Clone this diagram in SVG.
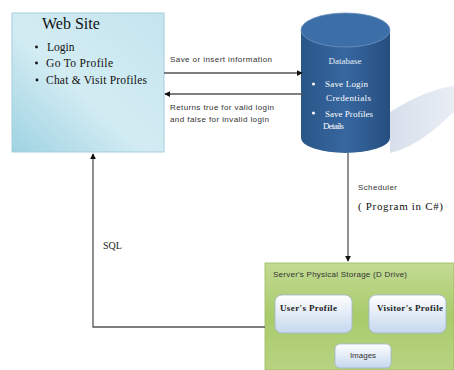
<svg xmlns="http://www.w3.org/2000/svg" width="454" height="370" viewBox="0 0 454 370">
<defs>
<linearGradient id="gWeb" x1="0" y1="1" x2="1" y2="0">
<stop offset="0" stop-color="#9fd3e2"/>
<stop offset="0.45" stop-color="#d3ecf3"/>
<stop offset="1" stop-color="#c4e4ee"/>
</linearGradient>
<linearGradient id="gDb" x1="0" y1="0" x2="1" y2="0">
<stop offset="0" stop-color="#2a5688"/>
<stop offset="0.5" stop-color="#3767a0"/>
<stop offset="1" stop-color="#264f80"/>
</linearGradient>
<linearGradient id="gGreen" x1="0" y1="0" x2="0" y2="1">
<stop offset="0" stop-color="#c2da93"/>
<stop offset="0.5" stop-color="#a9cb6b"/>
<stop offset="1" stop-color="#b8d382"/>
</linearGradient>
<linearGradient id="gInner" x1="0" y1="0" x2="0" y2="1">
<stop offset="0" stop-color="#ffffff"/>
<stop offset="1" stop-color="#c5d7ee"/>
</linearGradient>
<linearGradient id="gShadow" x1="0" y1="0" x2="1" y2="0">
<stop offset="0" stop-color="#d6dfeb"/>
<stop offset="1" stop-color="#e9eef5"/>
</linearGradient>
<marker id="ah" viewBox="0 0 8 8" refX="7" refY="4" markerWidth="6" markerHeight="6" orient="auto" markerUnits="userSpaceOnUse">
<path d="M0,0 L8,4 L0,8 z" fill="#111"/>
</marker>
<style>
.conn{stroke:#555;stroke-width:1.3;fill:none}
.sans{font-family:"Liberation Sans",Arial,sans-serif}
.serif{font-family:"Liberation Serif","Times New Roman",serif}
.small{font-size:8px;fill:#333}
.inner{fill:url(#gInner);stroke:#9fb6d3;stroke-width:0.8}
</style>
</defs>
<rect width="454" height="370" fill="#ffffff"/>

<g id="db-shadow">
<path d="M390,112 C412,98 436,88 454,86 L454,112 C436,128 418,146 390,153 Z" fill="url(#gShadow)"/>
</g>

<g id="website">
<rect x="12" y="13" width="152" height="139" fill="url(#gWeb)" stroke="#a3cedb" stroke-width="1"/>
<text x="42" y="29" class="serif" font-size="16" fill="#111">Web Site</text>
<g class="serif" font-size="11.5" fill="#111">
<circle cx="36.5" cy="47" r="1.4" fill="#111"/>
<text x="47" y="51">Login</text>
<circle cx="36.5" cy="63" r="1.4" fill="#111"/>
<text x="46" y="67" textLength="67">Go To Profile</text>
<circle cx="37" cy="80" r="1.4" fill="#111"/>
<text x="46" y="84" textLength="101">Chat &amp; Visit Profiles</text>
</g>
</g>

<g id="database">
<path d="M301,30 L301,138 A44.5,15 0 0 0 390,138 L390,30 Z" fill="url(#gDb)"/>
<ellipse cx="345.5" cy="30" rx="44.5" ry="17" fill="#3c6ea8" stroke="#6f93c0" stroke-width="0.8"/>
<text x="345" y="64" class="serif" font-size="9" fill="#e8eef7" text-anchor="middle">Database</text>
<g class="serif" font-size="9" fill="#ffffff">
<circle cx="313.5" cy="84" r="1.5" fill="#fff"/>
<text x="325" y="87" textLength="43">Save Login</text>
<text x="326" y="101" textLength="45">Credentials</text>
<circle cx="313.5" cy="113" r="1.5" fill="#fff"/>
<text x="325" y="117" textLength="48">Save Profiles</text>
<text x="323" y="129" textLength="21">Details</text>
</g>
</g>

<g id="storage">
<rect x="265" y="263" width="189" height="107" fill="url(#gGreen)" stroke="#9bbb59" stroke-width="0.8"/>
<text x="273" y="277" class="sans small" textLength="134">Server's Physical Storage (D Drive)</text>
<g id="users-profile">
<rect x="275" y="295" width="77" height="38" rx="7" class="inner"/>
<text x="280" y="311" class="serif" font-size="9" font-weight="bold" fill="#222" textLength="57">User's Profile</text>
</g>
<g id="visitors-profile">
<rect x="369" y="295" width="77" height="38" rx="7" class="inner"/>
<text x="377" y="311" class="serif" font-size="9" font-weight="bold" fill="#222" textLength="66">Visitor's Profile</text>
</g>
<g id="images">
<rect x="335" y="344" width="56" height="24" rx="5" class="inner"/>
<text x="363" y="358" class="sans" font-size="8" fill="#333" text-anchor="middle">Images</text>
</g>
</g>

<g id="connectors">
<line x1="164" y1="73" x2="302" y2="73" class="conn" marker-end="url(#ah)"/>
<line x1="303" y1="94" x2="165" y2="94" class="conn" marker-end="url(#ah)"/>
<line x1="348" y1="153" x2="348" y2="261" class="conn" marker-end="url(#ah)"/>
<polyline points="265,327 93,327 93,154" class="conn" marker-end="url(#ah)"/>
</g>

<g id="labels">
<text x="170" y="62" class="sans small" textLength="102">Save or insert information</text>
<text x="170" y="110" class="sans small" textLength="104">Returns true for valid login</text>
<text x="170" y="122" class="sans small" textLength="99">and false for invalid login</text>
<text x="358" y="190" class="sans small" textLength="39">Scheduler</text>
<text x="358" y="210" class="serif" font-size="11" fill="#111" textLength="85">( Program in C#)</text>
<text x="103" y="249" class="serif" font-size="10" fill="#222">SQL</text>
</g>
</svg>
